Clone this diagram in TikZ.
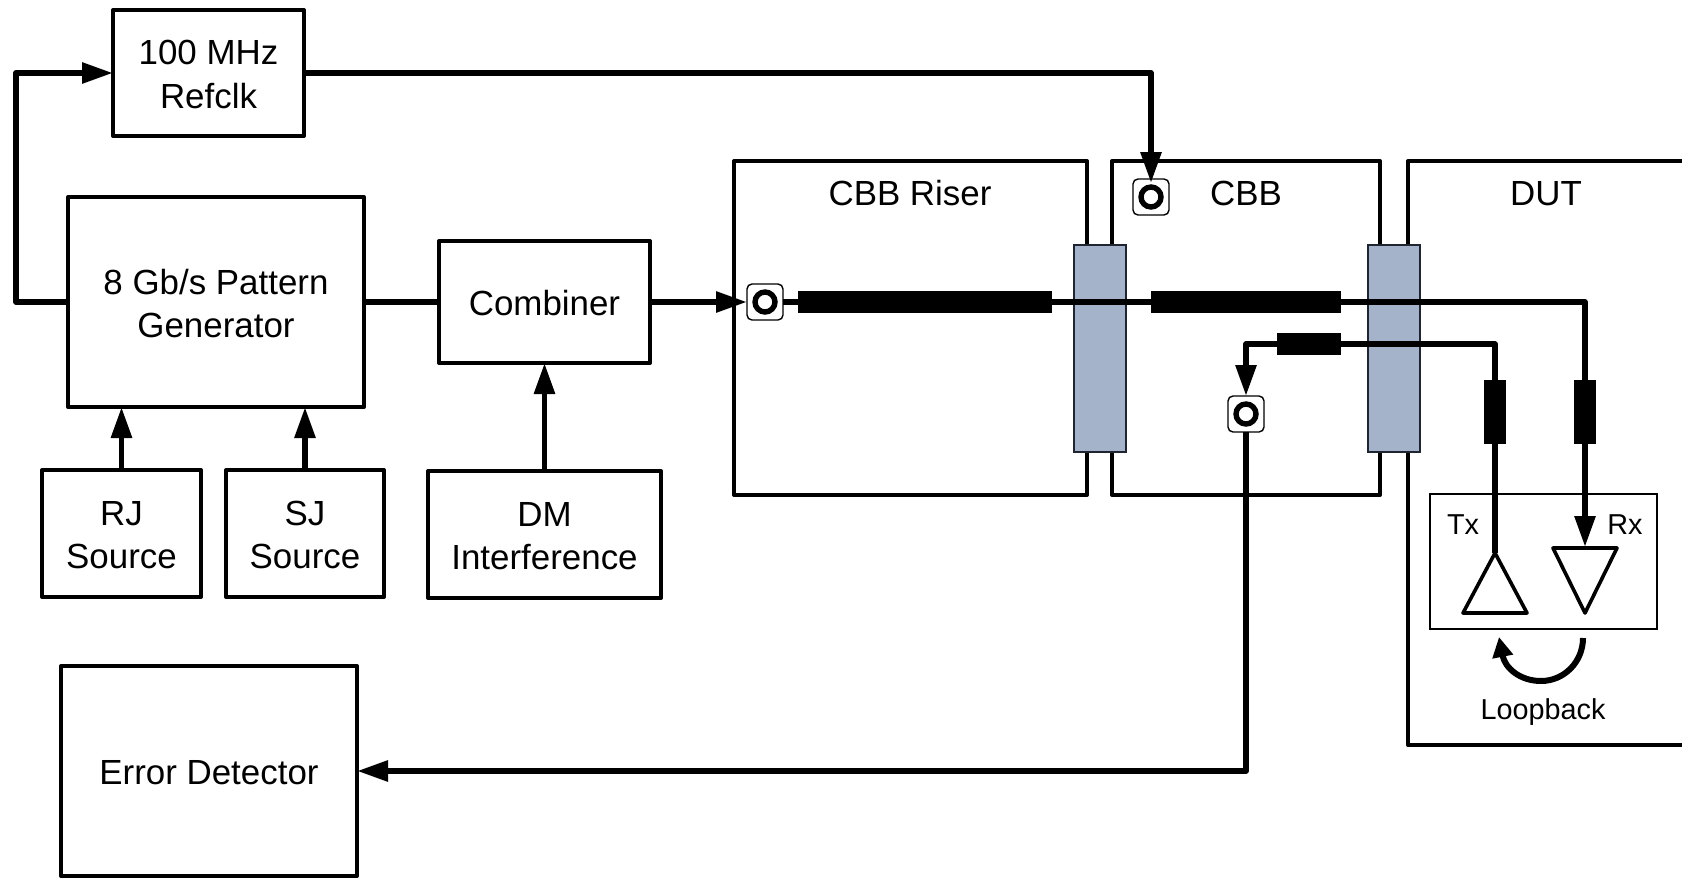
\documentclass[tikz,border=0pt]{standalone}
\usepackage{fontspec}
\setmainfont{Liberation Sans}
\usetikzlibrary{arrows.meta}
\definecolor{connblue}{HTML}{A4B3CA}
\definecolor{connedge}{HTML}{1E2530}
\newcommand\dnline[1]{\raisebox{-.7pt}[\height][\depth]{#1}}
\tikzset{
  x=.5pt,y=-.5pt,
  bigtxt/.style={font=\fontsize{17.45}{21.6}\selectfont,align=center},
  smalltxt/.style={font=\fontsize{14.4}{17}\selectfont,inner sep=0pt},
  blockbox/.style={draw=black,line width=2pt,line join=round,fill=white,inner sep=0pt,outer sep=0pt,bigtxt},
  titletxt/.style={bigtxt,inner sep=0pt,anchor=base},
  framebox/.style={draw=black,line width=2pt,line join=round},
  wire/.style={draw=black,line width=2.9pt,line join=round},
  tipped/.style={-{Triangle[length=15.5pt,width=10pt]}},
  iconbox/.style={draw=black,line width=.7pt,fill=white,rounded corners=2.5pt,minimum size=18pt,inner sep=0pt,outer sep=0pt},
  ringmark/.style={draw=black,line width=2.7pt},
  bridge/.style={draw=connedge,line width=1.4pt,fill=connblue,inner sep=0pt,outer sep=0pt,minimum width=26pt,minimum height=103.5pt},
  barblock/.style={fill=black,inner sep=0pt,outer sep=0pt},
  ampbox/.style={draw=black,line width=1.8pt,line join=round},
}
\begin{document}
\begin{tikzpicture}
\useasboundingbox (0,0) rectangle (1682,878);

% enclosures
\draw[framebox] (734,161) rectangle (1087,495);
\draw[framebox] (1112,161) rectangle (1380,495);
\draw[framebox] (1682,161) -- (1408,161) -- (1408,745) -- (1682,745);
\node[titletxt] (tRiser) at (910,205) {CBB Riser};
\node[titletxt] (tCbb) at (1246,205) {CBB};
\node[titletxt] (tDut) at (1546,205) {DUT};

% blocks
\node[blockbox,minimum width=95.5pt,minimum height=63pt] (ref) at (208.5,73) {\dnline{100 MHz}\\\dnline{Refclk}};
\node[blockbox,minimum width=148pt,minimum height=105pt] (pg) at (216,302) {\dnline{8 Gb/s Pattern}\\\dnline{Generator}};
\node[blockbox,minimum width=105.5pt,minimum height=61pt] (comb) at (544.5,302) {\dnline{Combiner}};
\node[blockbox,minimum width=79.5pt,minimum height=63.5pt] (rj) at (121.5,533.5) {\dnline{RJ}\\\dnline{Source}};
\node[blockbox,minimum width=79pt,minimum height=63.5pt] (sj) at (305,533.5) {\dnline{SJ}\\\dnline{Source}};
\node[blockbox,minimum width=116.5pt,minimum height=63.5pt] (dm) at (544.5,534.5) {\dnline{DM}\\\dnline{Interference}};
\node[blockbox,minimum width=148pt,minimum height=105pt] (ed) at (209,771) {\dnline{Error Detector}};

% board connectors
\node[bridge] (brA) at (1100,348.5) {};
\node[bridge] (brB) at (1394,348.5) {};

% transceiver box
\draw[line width=1pt,draw=black] (1430,494) rectangle (1657,629);
\node[smalltxt] (tTx) at (1463,525) {Tx};
\node[smalltxt] (tRx) at (1625,525) {Rx};
\node[smalltxt] (tLoop) at (1543,712) {Loopback};

% coaxial connectors
\node[iconbox] (cTop) at (1151,197) {};
\node[iconbox] (cIn) at (765,302) {};
\node[iconbox] (cOut) at (1246,414) {};
\draw[ringmark] (cTop) circle[radius=5pt];
\draw[ringmark] (cIn) circle[radius=5pt];
\draw[ringmark] (cOut) circle[radius=5pt];

% named points
\coordinate (leftrun) at (16,187);
\coordinate (rxtop) at (1585,547);
\coordinate (txtop) at (1495,553);
\coordinate (retcorner) at (1246,344);
\coordinate (loopA) at (1583,638);
\coordinate (loopB) at (1541,681);
\coordinate (loopC) at (1499,637);

% wires
\draw[wire,tipped] (pg.west) -| (leftrun) |- (ref.west);
\draw[wire,tipped] (ref.east) -| ([yshift=-2pt]cTop.north);
\draw[wire] (pg.east) -- (comb.west);
\draw[wire,tipped] (comb.east) -- (cIn.west);
\draw[wire,tipped] (rj.north) -- (rj.north |- pg.south);
\draw[wire,tipped] (sj.north) -- (sj.north |- pg.south);
\draw[wire,tipped] (dm.north) -- (comb.south);
\draw[wire,tipped] (cIn.east) -| (rxtop);
\draw[wire,tipped] (txtop) |- (retcorner) -- (cOut.north);
\draw[wire,tipped] (cOut.south) |- (ed.east);

% thick line segments
\node[barblock,minimum width=127pt,minimum height=11pt] (barA) at (925,302) {};
\node[barblock,minimum width=95pt,minimum height=11pt] (barB) at (1246,302) {};
\node[barblock,minimum width=32pt,minimum height=11pt] (barC) at (1309,344) {};
\node[barblock,minimum width=11pt,minimum height=32pt] (barD) at (1495,412) {};
\node[barblock,minimum width=11pt,minimum height=32pt] (barE) at (1585,412) {};

% amplifiers
\coordinate (txL) at (1463,613);
\coordinate (txR) at (1527,613);
\coordinate (rxL) at (1553,548);
\coordinate (rxR) at (1617,548);
\coordinate (rxB) at (1585,613);
\draw[ampbox] (txtop) -- (txL) -- (txR) -- cycle;
\draw[ampbox] (rxL) -- (rxR) -- (rxB) -- cycle;

% loopback arrow
\draw[wire,line width=3pt,-{Triangle[length=10pt,width=10pt]}] (loopA) .. controls (1583,662) and (1564,681) .. (loopB) .. controls (1520,681) and (1505,668) .. (loopC);
\end{tikzpicture}
\end{document}
